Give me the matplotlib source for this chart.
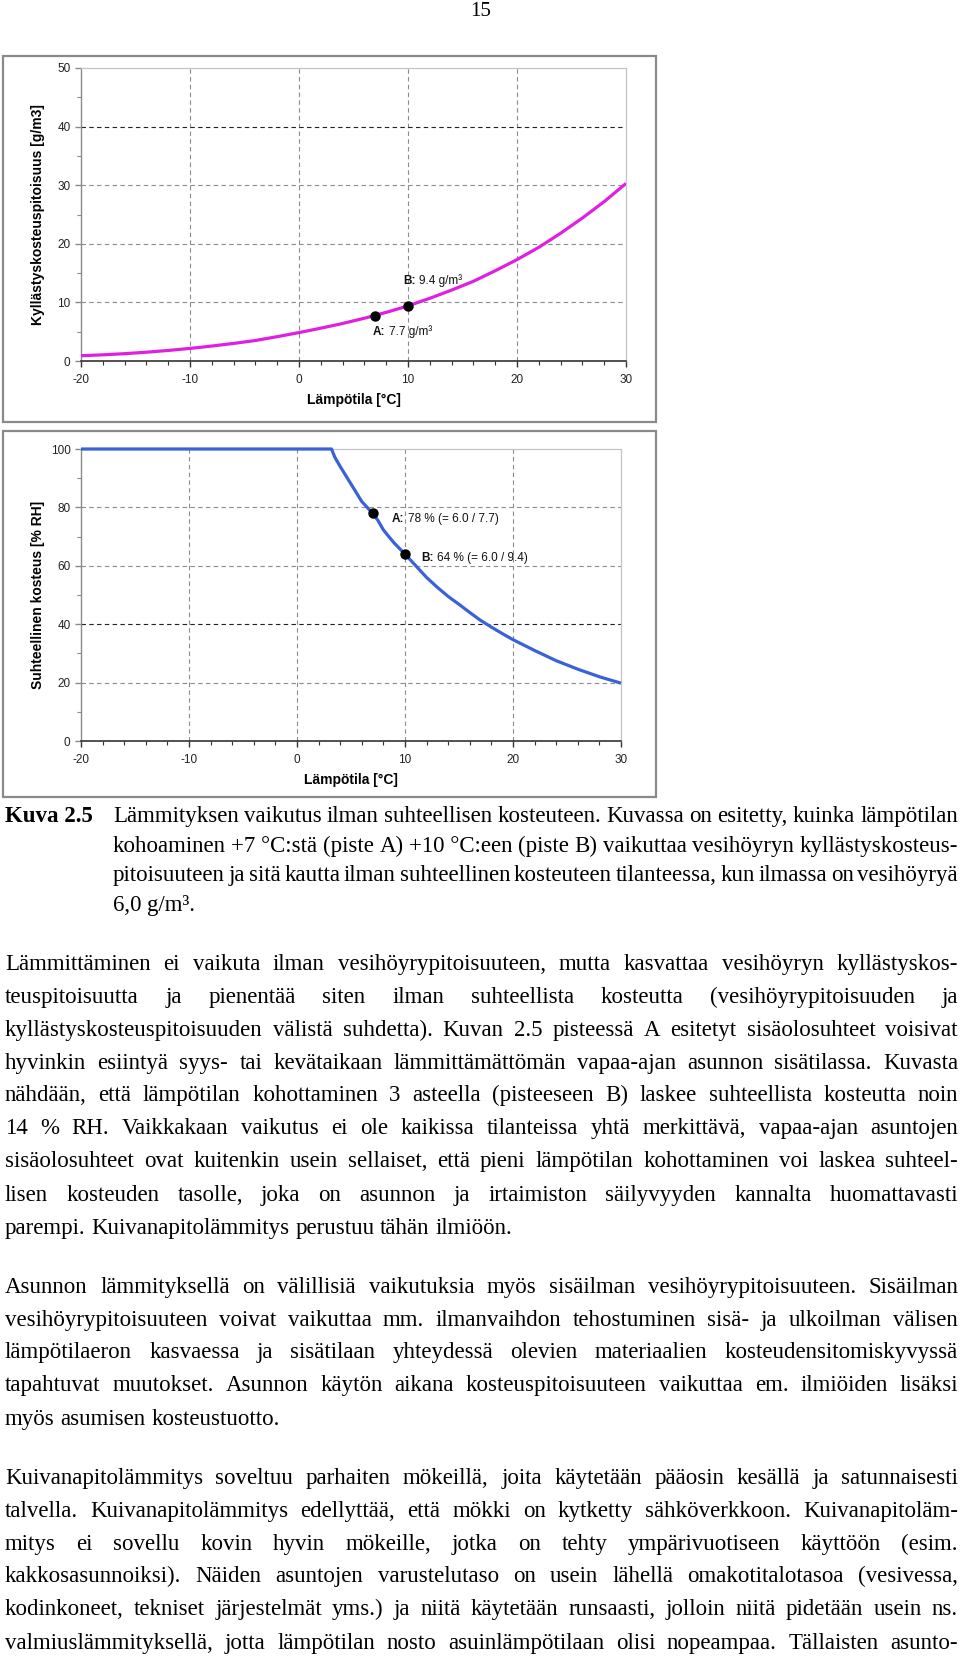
import matplotlib
matplotlib.use('Agg')
import matplotlib.pyplot as plt
from matplotlib import font_manager
from matplotlib.patches import Rectangle
from matplotlib.ticker import MultipleLocator

plt.rcParams['axes.unicode_minus'] = False

# ---------------- data ----------------
temp_sat = [-20, -18, -16, -14, -12, -10, -8, -6, -4, -2, 0, 2, 4, 6, 8, 10,
            12, 14, 16, 18, 20, 22, 24, 26, 28, 30]
sat_content = [0.9, 1.05, 1.25, 1.5, 1.8, 2.15, 2.55, 3.0, 3.5, 4.15, 4.85, 5.6,
               6.4, 7.3, 8.3, 9.4, 10.7, 12.1, 13.6, 15.4, 17.3, 19.4, 21.8,
               24.4, 27.2, 30.3]
temp_rh = [-20, -15, -10, -5, 0, 3.2, 3.5, 4, 4.5, 5, 5.5, 6, 6.5, 7, 7.5, 8,
           8.5, 9, 9.5, 10, 11, 12, 13, 14, 15, 16, 17, 18, 19, 20, 22, 24, 26,
           28, 30]
rel_hum = [100, 100, 100, 100, 100, 100, 97.2, 94, 91, 88, 85, 82, 80, 78,
           75.5, 72.3, 70, 67.8, 65.9, 64, 60, 56, 52.6, 49.5, 46.8, 44, 41.3,
           39, 36.8, 34.7, 31, 27.5, 24.6, 22, 19.8]
point_temps = [7, 10]
point_sat = [7.7, 9.4]
point_rh = [78, 64]
point_names = ["A:", "B:"]
sat_labels = ["7.7 g/m³", "9.4 g/m³"]
rh_labels = ["78 % (= 6.0 / 7.7)", "64 % (= 6.0 / 9.4)"]
x_ticks = [-20, -10, 0, 10, 20, 30]
y_ticks_sat = [0, 10, 20, 30, 40, 50]
y_ticks_rh = [0, 20, 40, 60, 80, 100]

W, H = 960.0, 1657.0
fig = plt.figure(figsize=(9.6, 16.57), dpi=100)
fig.patch.set_facecolor('white')
renderer = fig.canvas.get_renderer()

names = {f.name for f in font_manager.fontManager.ttflist}
NARROW = ['Liberation Sans Narrow', 'Liberation Sans', 'DejaVu Sans'] if 'Liberation Sans Narrow' in names \
    else ['Liberation Sans', 'DejaVu Sans']
SERIF = ['Liberation Serif', 'DejaVu Serif']


def fx(px):
    return px / W


def fy(py):
    return 1 - py / H


# ---------------- frames ----------------
for top, bot in [(56, 422), (431, 797)]:
    fig.add_artist(Rectangle((fx(3), fy(bot)), fx(656) - fx(3), fy(top) - fy(bot),
                             transform=fig.transFigure, fill=False,
                             ec='#8a8a8a', lw=1.6))


def style_axes(ax, yticks, ymax, yminor, ylabel, ylab_x):
    ax.set_xlim(-20, 30)
    ax.set_ylim(0, ymax)
    ax.set_xticks(x_ticks)
    ax.set_yticks(yticks)
    ax.xaxis.set_minor_locator(MultipleLocator(2))
    ax.yaxis.set_minor_locator(MultipleLocator(yminor))
    for sp in ['top', 'right']:
        ax.spines[sp].set_color('#c4c4c4')
        ax.spines[sp].set_linewidth(0.9)
    ax.spines['left'].set_color('#8a8a8a')
    ax.spines['left'].set_linewidth(1.0)
    ax.spines['bottom'].set_color('#333333')
    ax.spines['bottom'].set_linewidth(1.2)
    ax.tick_params(axis='x', which='major', length=4, width=1, color='#333333',
                   pad=5.5, labelsize=8.5, labelcolor='#222222')
    ax.tick_params(axis='x', which='minor', length=3, width=0.8, color='#333333')
    ax.tick_params(axis='y', which='major', length=4, width=1, color='#8a8a8a',
                   pad=3.5, labelsize=8.5, labelcolor='#222222')
    ax.tick_params(axis='y', which='minor', length=3, width=0.8, color='#8a8a8a')
    for lab in ax.get_xticklabels() + ax.get_yticklabels():
        lab.set_family(NARROW)
    for xv in x_ticks[1:-1]:
        ax.axvline(xv, color='#8c8c8c', lw=0.8, ls=(0, (4, 3)), zorder=1)
    for yv in yticks[1:-1]:
        c = '#222222' if yv == 40 else '#8c8c8c'
        ax.axhline(yv, color=c, lw=0.8, ls=(0, (4, 3)), zorder=1)
    ax.set_xlabel('Lämpötila [°C]', family=NARROW, weight='bold', size=10)
    ax.set_ylabel(ylabel, family=NARROW, weight='bold', size=10)
    ax.xaxis.set_label_coords(0.5, -0.133)
    ax.xaxis.label.set_va('center')
    ax.yaxis.set_label_coords(ylab_x, 0.5)
    ax.yaxis.label.set_va('center')
    ax.yaxis.label.set_ha('center')


def annotate(ax, x, y, name, rest):
    t1 = ax.text(x, y, name, family=NARROW, weight='bold', size=8.5,
                 va='center', ha='left', color='#111111', zorder=5)
    ax.annotate(rest, xy=(1, 0.5), xycoords=t1, xytext=(2.2, 0),
                textcoords='offset points', family=NARROW, size=8.5,
                va='center', ha='left', color='#111111', zorder=5)


# ---------------- top chart ----------------
ax1 = fig.add_axes([fx(81), fy(361), fx(626) - fx(81), fy(68) - fy(361)])
style_axes(ax1, y_ticks_sat, 50, 5, 'Kyllästyskosteuspitoisuus [g/m3]', -0.079)
ax1.plot(temp_sat, sat_content, color='#e020e0', lw=2.3, zorder=3,
         solid_capstyle='butt', solid_joinstyle='round')
ax1.plot(point_temps, point_sat, 'o', color='black', ms=6.5, zorder=4)
annotate(ax1, 6.8, 4.95, point_names[0], sat_labels[0])
annotate(ax1, 9.6, 13.65, point_names[1], sat_labels[1])

# ---------------- bottom chart ----------------
ax2 = fig.add_axes([fx(81), fy(741), fx(621) - fx(81), fy(449) - fy(741)])
style_axes(ax2, y_ticks_rh, 100, 10, 'Suhteellinen kosteus [% RH]', -0.0796)
ax2.plot(temp_rh, rel_hum, color='#3a62d8', lw=2.3, zorder=3,
         solid_capstyle='butt', solid_joinstyle='round', clip_on=False)
ax2.plot(point_temps, point_rh, 'o', color='black', ms=6.5, zorder=4)
annotate(ax2, 8.8, 76.0, point_names[0], rh_labels[0])
annotate(ax2, 11.55, 62.7, point_names[1], rh_labels[1])

# ---------------- page number ----------------
fig.text(fx(481), fy(11), '15', family=SERIF, size=15, ha='center', va='center')

# ---------------- body text ----------------
caption_lines = [
    "Lämmityksen vaikutus ilman suhteellisen kosteuteen. Kuvassa on esitetty, kuinka lämpötilan",
    "kohoaminen +7\u00a0°C:stä (piste A) +10\u00a0°C:een (piste B) vaikuttaa vesihöyryn kyllästyskosteus-",
    "pitoisuuteen ja sitä kautta ilman suhteellinen kosteuteen tilanteessa, kun ilmassa on vesihöyryä",
    "6,0 g/m³.",
]
caption_y = [816, 846, 875, 905]
para1 = [
    "Lämmittäminen ei vaikuta ilman vesihöyrypitoisuuteen, mutta kasvattaa vesihöyryn kyllästyskos-",
    "teuspitoisuutta ja pienentää siten ilman suhteellista kosteutta (vesihöyrypitoisuuden ja",
    "kyllästyskosteuspitoisuuden välistä suhdetta). Kuvan 2.5 pisteessä A esitetyt sisäolosuhteet voisivat",
    "hyvinkin esiintyä syys- tai kevätaikaan lämmittämättömän vapaa-ajan asunnon sisätilassa. Kuvasta",
    "nähdään, että lämpötilan kohottaminen 3 asteella (pisteeseen B) laskee suhteellista kosteutta noin",
    "14 % RH. Vaikkakaan vaikutus ei ole kaikissa tilanteissa yhtä merkittävä, vapaa-ajan asuntojen",
    "sisäolosuhteet ovat kuitenkin usein sellaiset, että pieni lämpötilan kohottaminen voi laskea suhteel-",
    "lisen kosteuden tasolle, joka on asunnon ja irtaimiston säilyvyyden kannalta huomattavasti",
    "parempi. Kuivanapitolämmitys perustuu tähän ilmiöön.",
]
para1_y = [964, 997, 1030, 1063, 1095, 1128, 1161, 1195, 1228]
para2 = [
    "Asunnon lämmityksellä on välillisiä vaikutuksia myös sisäilman vesihöyrypitoisuuteen. Sisäilman",
    "vesihöyrypitoisuuteen voivat vaikuttaa mm. ilmanvaihdon tehostuminen sisä- ja ulkoilman välisen",
    "lämpötilaeron kasvaessa ja sisätilaan yhteydessä olevien materiaalien kosteudensitomiskyvyssä",
    "tapahtuvat muutokset. Asunnon käytön aikana kosteuspitoisuuteen vaikuttaa em. ilmiöiden lisäksi",
    "myös asumisen kosteustuotto.",
]
para2_y = [1287, 1320, 1352, 1385, 1419]
para3 = [
    "Kuivanapitolämmitys soveltuu parhaiten mökeillä, joita käytetään pääosin kesällä ja satunnaisesti",
    "talvella. Kuivanapitolämmitys edellyttää, että mökki on kytketty sähköverkkoon. Kuivanapitoläm-",
    "mitys ei sovellu kovin hyvin mökeille, jotka on tehty ympärivuotiseen käyttöön (esim.",
    "kakkosasunnoiksi). Näiden asuntojen varustelutaso on usein lähellä omakotitalotasoa (vesivessa,",
    "kodinkoneet, tekniset järjestelmät yms.) ja niitä käytetään runsaasti, jolloin niitä pidetään usein ns.",
    "valmiuslämmityksellä, jotta lämpötilan nosto asuinlämpötilaan olisi nopeampaa. Tällaisten asunto-",
]
para3_y = [1478, 1511, 1544, 1576, 1609, 1643]

# (lines, centres, x0, x1, justify last line?)
blocks = [
    (caption_lines, caption_y, 113, 958, False),
    (para1, para1_y, 5, 958, False),
    (para2, para2_y, 5, 958, False),
    (para3, para3_y, 5, 958, True),
]


def width_of(s, size):
    t = fig.text(0, 0, s, family=SERIF, size=size)
    w = t.get_window_extent(renderer).width
    t.remove()
    return w


fs = 15.5
space_w = width_of('a a', fs) - width_of('aa', fs)
# fit the font so the tightest justified line just fits
worst = 0.0
for lines, ys, x0, x1, just_last in blocks:
    for i, ln in enumerate(lines):
        if i < len(lines) - 1 or just_last:
            words = ln.split(' ')
            nat = sum(width_of(w, fs) for w in words) + space_w * 0.68 * (len(words) - 1)
            worst = max(worst, nat / (x1 - x0))
fs = fs / worst
space_w = width_of('a a', fs) - width_of('aa', fs)

BASE_OFF = 6


def draw_line(line, x0, x1, yc, justify):
    words = line.split(' ')
    ts = [fig.text(0, fy(yc + BASE_OFF), w, family=SERIF, size=fs,
                   va='baseline', ha='left') for w in words]
    ws = [t.get_window_extent(renderer).width for t in ts]
    if justify and len(words) > 1:
        gap = (x1 - x0 - sum(ws)) / (len(words) - 1)
    else:
        gap = space_w
    x = x0
    for t, w in zip(ts, ws):
        t.set_x(fx(x))
        x += w + gap


for lines, ys, x0, x1, just_last in blocks:
    for i, (ln, yc) in enumerate(zip(lines, ys)):
        draw_line(ln, x0, x1, yc, i < len(lines) - 1 or just_last)

fig.text(fx(5), fy(caption_y[0] + BASE_OFF), 'Kuva 2.5', family=SERIF, size=fs,
         weight='bold', va='baseline', ha='left')

fig.savefig('out.png', dpi=100, facecolor='white')
